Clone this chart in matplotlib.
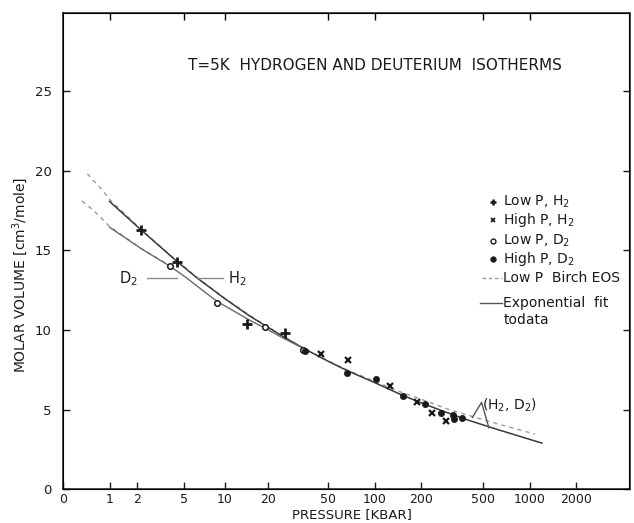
import numpy as np
import matplotlib
matplotlib.use('Agg')
import matplotlib.pyplot as plt
from matplotlib.lines import Line2D

plt.rcParams['font.family'] = ['DejaVu Sans']
plt.rcParams['mathtext.default'] = 'regular'

# ---------------- data ----------------
x_ticks = [0, 1, 2, 5, 10, 20, 50, 100, 200, 500, 1000, 2000]
top_ticks = [1, 5, 10, 50, 100, 500, 1000]
y_ticks = [0, 5, 10, 15, 20, 25]

lowP_H2_P = [2.2, 4.4, 14.4, 26]
lowP_H2_V = [16.3, 14.3, 10.4, 9.8]
highP_H2_P = [44.7, 67.6, 125, 189, 235, 291]
highP_H2_V = [8.48, 8.1, 6.5, 5.45, 4.82, 4.3]
lowP_D2_P = [3.9, 8.8, 19.1, 34]
lowP_D2_V = [14.0, 11.7, 10.2, 8.75]
highP_D2_P = [35, 66, 102, 152, 213, 267, 321, 328, 369]
highP_D2_V = [8.7, 7.33, 6.9, 5.87, 5.35, 4.76, 4.65, 4.4, 4.47]

fit_H2_P = [1.0, 2.2, 4.4, 6.3, 10, 15, 25, 35, 50, 66, 100, 150, 210, 270, 400, 600, 1200]
fit_H2_V = [18.07, 16.27, 14.32, 13.27, 11.97, 10.86, 9.6, 8.8, 8.03, 7.46, 6.7, 5.92, 5.35, 4.95, 4.35, 3.8, 2.9]
fit_D2_P = [1.0, 2.2, 3.9, 5.1, 8.8, 15, 19.1, 25, 35]
fit_D2_V = [16.45, 15.1, 14.0, 13.35, 11.8, 10.6, 10.1, 9.5, 8.8]

birch_H2_P = [0.44, 0.79, 1.0, 2.2, 4.4, 6.3, 10, 15, 25, 35, 50, 66, 100, 150, 210, 300, 530, 1085]
birch_H2_V = [19.8, 18.8, 18.2, 16.3, 14.35, 13.3, 12.0, 10.9, 9.62, 8.82, 8.05, 7.5, 6.78, 6.08, 5.58, 5.02, 4.3, 3.46]
birch_D2_P = [0.33, 0.58, 0.88, 1.0, 2.2, 3.9]
birch_D2_V = [18.1, 17.5, 16.77, 16.5, 15.12, 14.02]

title = "T=5K  HYDROGEN AND DEUTERIUM  ISOTHERMS"
legend_labels = ["Low P, H$_2$", "High P, H$_2$", "Low P, D$_2$", "High P, D$_2$",
                 "Low P  Birch EOS", "Exponential  fit", "todata"]

# ---------------- figure ----------------
W, H = 634, 523
fig = plt.figure(figsize=(W / 100, H / 100), dpi=100)
L, R, T, B = 62.7, 629.5, 13.0, 489.3
ax = fig.add_axes([L / W, 1 - B / H, (R - L) / W, (B - T) / H])


def fwd(x):
    x = np.asarray(x, dtype=float)
    return np.log10(1 + np.clip(x, -0.999, None))


def inv(u):
    return 10 ** np.asarray(u, dtype=float) - 1


ax.set_xscale('function', functions=(fwd, inv))
ax.set_xlim(0, 4390)
ax.set_ylim(0, 29.9)

ink = '#1a1a1a'
line_c = '#3a3a3a'
dash_c = '#9a9a9a'

# Birch (dashed)
ax.plot(birch_H2_P, birch_H2_V, ls=(0, (3, 3)), color=dash_c, lw=1.0, zorder=1)
ax.plot(birch_D2_P, birch_D2_V, ls=(0, (3, 3)), color=dash_c, lw=1.0, zorder=1)
# exponential fits (solid)
ax.plot(fit_H2_P, fit_H2_V, color=line_c, lw=1.1, zorder=2)
ax.plot(fit_D2_P, fit_D2_V, color='#6a6a6a', lw=1.0, zorder=2)

# data points
ax.plot(lowP_H2_P, lowP_H2_V, ls='none', marker='+', ms=6.5, mew=2.0, color=ink, zorder=4)
ax.plot(highP_H2_P, highP_H2_V, ls='none', marker='x', ms=4.5, mew=1.6, color=ink, zorder=4)
ax.plot(lowP_D2_P, lowP_D2_V, ls='none', marker='o', ms=4, mew=1.1, mfc='white', mec=ink, zorder=4)
ax.plot(highP_D2_P, highP_D2_V, ls='none', marker='o', ms=4.5, mew=0.5, color=ink, zorder=4)

# D2 / H2 leader labels
ax.plot([2.49, 4.44], [13.25, 13.25], color='#8a8a8a', lw=1.0)
ax.plot([6.31, 9.77], [13.27, 13.27], color='#8a8a8a', lw=1.0)
ax.text(1.65, 13.2, "D$_2$", fontsize=10.5, color=ink, ha='center', va='center')
ax.text(12.2, 13.2, "H$_2$", fontsize=10.5, color=ink, ha='center', va='center')

# (H2, D2) annotation
ax.plot([428, 490.7, 547], [4.5, 5.46, 3.86], color='#555555', lw=1.0)
ax.text(490.7, 5.25, "(H$_2$, D$_2$)", fontsize=10, color=ink, ha='left', va='center')

# axes styling
ax.set_xticks(x_ticks)
ax.set_xticklabels([str(t) for t in x_ticks])
ax.xaxis.set_minor_locator(matplotlib.ticker.NullLocator())
ax.set_yticks(y_ticks)
ax.set_yticklabels([str(t) for t in y_ticks])
ax.tick_params(axis='both', direction='in', length=5, width=1, labelsize=9.5,
               colors=ink)
ax.tick_params(axis='x', pad=3, labelsize=9)
ax.tick_params(axis='y', pad=8, right=True)
for s in ax.spines.values():
    s.set_color(ink)
    s.set_linewidth(1.1)

axt = ax.twiny()
axt.set_xscale('function', functions=(fwd, inv))
axt.set_xlim(ax.get_xlim())
axt.set_xticks(top_ticks)
axt.xaxis.set_minor_locator(matplotlib.ticker.NullLocator())
axt.tick_params(axis='x', direction='in', length=5, width=1, labeltop=False)

ax.set_xlabel("PRESSURE [KBAR]", fontsize=9.5, color=ink)
ax.xaxis.set_label_coords((352 - L) / (R - L), -0.039)
ax.set_ylabel("MOLAR VOLUME [cm$^3$/mole]", fontsize=10, color=ink)
ax.yaxis.set_label_coords(-0.058, 0.45)

fig.text(188 / W, 1 - 65 / H, title, fontsize=11, color=ink, ha='left', va='center')

# manual legend
def fp(x, y):
    return (x / W, 1 - y / H)

rows_y = [201.7, 220, 241, 259.3, 278.3, 303.3, 320]
mk = [dict(marker='+', ms=5, mew=1.8, color=ink),
      dict(marker='x', ms=3.5, mew=1.3, color=ink),
      dict(marker='o', ms=3.5, mew=1.0, mfc='white', mec=ink),
      dict(marker='o', ms=4, mew=0.5, color=ink)]
for i in range(4):
    x0, y0 = fp(492.7, rows_y[i])
    fig.add_artist(Line2D([x0], [y0], ls='none', **mk[i]))
xa, ya = fp(481.7, rows_y[4]); xb, _ = fp(501.7, rows_y[4])
fig.add_artist(Line2D([xa, xb], [ya, ya], ls=(0, (2.5, 2)), color=dash_c, lw=1.0))
xa, ya = fp(480, rows_y[5]); xb, _ = fp(501.7, rows_y[5])
fig.add_artist(Line2D([xa, xb], [ya, ya], color='#555555', lw=1.0))
for i, lab in enumerate(legend_labels):
    x0, y0 = fp(503.3, rows_y[i])
    fig.text(x0, y0, lab, fontsize=10, color=ink, ha='left', va='center')

fig.savefig('out.png', dpi=100, facecolor='white')
